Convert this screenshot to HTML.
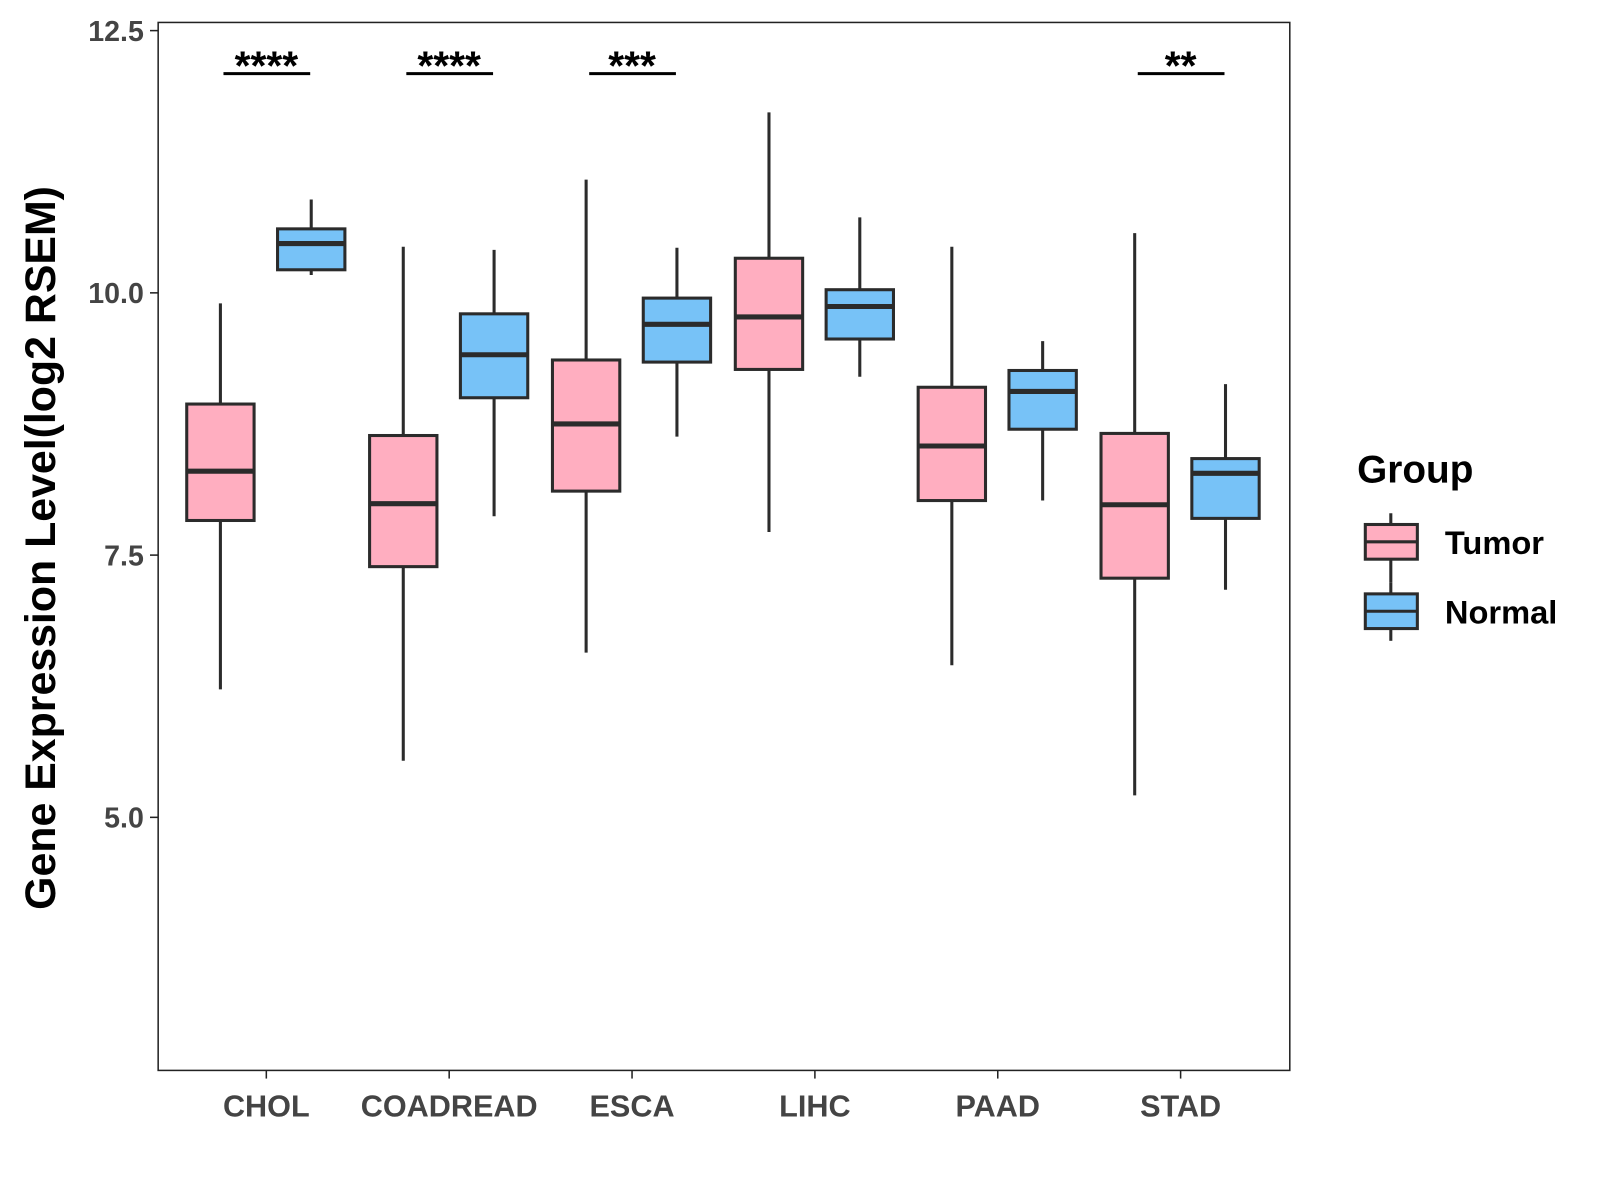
<!DOCTYPE html>
<html><head><meta charset="utf-8"><style>
html,body{margin:0;padding:0;background:#fff;}
svg{display:block;font-family:"Liberation Sans",Arial,sans-serif;}
</style></head><body>
<svg id="chart" width="1600" height="1200" viewBox="0 0 1568 1176">
<rect x="155" y="22" width="1109" height="1027" fill="none" stroke="#222" stroke-width="1.5"/>
<g id="marks"></g>
<text transform="translate(54,537) rotate(-90)" text-anchor="middle" font-size="42" font-weight="bold" fill="#000">Gene Expression Level(log2 RSEM)</text>
<g>
<text x="1330" y="473" font-size="38" font-weight="bold">Group</text>
<g>
<line x1="1363" y1="503" x2="1363" y2="571" stroke="#2b2b2b" stroke-width="3"/>
<rect x="1338" y="514" width="51" height="34" fill="#FFAEC0" stroke="#2b2b2b" stroke-width="3"/>
<line x1="1338" y1="531" x2="1389" y2="531" stroke="#2b2b2b" stroke-width="3"/>
<text x="1416" y="543" font-size="32" font-weight="bold">Tumor</text></g>
<g>
<line x1="1363" y1="571" x2="1363" y2="628" stroke="#2b2b2b" stroke-width="3"/>
<rect x="1338" y="582" width="51" height="34" fill="#77C2F7" stroke="#2b2b2b" stroke-width="3"/>
<line x1="1338" y1="599" x2="1389" y2="599" stroke="#2b2b2b" stroke-width="3"/>
<text x="1416" y="611" font-size="32" font-weight="bold">Normal</text></g>
</g>
</svg>
<script>
const categories=["CHOL","COADREAD","ESCA","LIHC","PAAD","STAD"];
const tumorStats=[[6.22,7.83,8.30,8.94,9.90],[5.54,7.39,7.99,8.64,10.44],[6.57,8.11,8.75,9.36,11.08],[7.72,9.27,9.77,10.33,11.72],[6.45,8.02,8.54,9.10,10.44],[5.21,7.28,7.98,8.66,10.57]];
const normalStats=[[10.17,10.22,10.47,10.61,10.89],[7.87,9.00,9.41,9.80,10.41],[8.63,9.34,9.70,9.95,10.43],[9.20,9.56,9.87,10.03,10.72],[8.02,8.70,9.06,9.26,9.54],[7.17,7.85,8.28,8.42,9.13]];
const sigLabels=["****","****","***","","","**"];
const yTicks=[5.0,7.5,10.0,12.5];
const yTickLabels=["5.0","7.5","10.0","12.5"];
const sigLevel=12.09;

const NS="http://www.w3.org/2000/svg";
const g=document.getElementById('marks');
const y=v=>30+(12.5-v)*102.8;
const x=i=>261+i*179.2;
function mk(t,a,p){const e=document.createElementNS(NS,t);for(const k in a)e.setAttribute(k,a[k]);(p||g).appendChild(e);return e;}
yTicks.forEach((t,i)=>{
  const l=mk('line',{x1:147,x2:155,y1:y(t),y2:y(t),stroke:'#222','stroke-width':1.5});
  
  
  const tx=mk('text',{x:141,y:y(t)+10,'text-anchor':'end','font-size':28,'font-weight':'bold',fill:'#444'});
  tx.textContent=yTickLabels[i];
  
  
});
categories.forEach((c,i)=>{
  const l=mk('line',{x1:x(i),x2:x(i),y1:1049,y2:1057,stroke:'#222','stroke-width':1.5});
  
  
  const tx=mk('text',{x:x(i),y:1094,'text-anchor':'middle','font-size':30,'font-weight':'bold',fill:'#444'});
  tx.textContent=c;
  
  
  [[tumorStats[i],-45,'#FFAEC0','tumor'],[normalStats[i],44,'#77C2F7','normal']].forEach(([s,off,col,nm])=>{
    const cx=x(i)+off;
    const grp=mk('g',{});
    
    
    mk('line',{x1:cx,x2:cx,y1:y(s[0]),y2:y(s[4]),stroke:'#2b2b2b','stroke-width':3},grp);
    mk('rect',{x:cx-33,y:y(s[3]),width:66,height:y(s[1])-y(s[3]),fill:col,stroke:'#2b2b2b','stroke-width':3},grp);
    mk('line',{x1:cx-33,x2:cx+33,y1:y(s[2]),y2:y(s[2]),stroke:'#2b2b2b','stroke-width':5},grp);
  });
  if(sigLabels[i]){
    const l=mk('line',{x1:x(i)-42,x2:x(i)+43,y1:y(sigLevel),y2:y(sigLevel),stroke:'#000','stroke-width':3});
    
    
    const tx=mk('text',{x:x(i),y:y(sigLevel)+6,'text-anchor':'middle','font-size':40,'font-weight':'bold',fill:'#000'});
    tx.textContent=sigLabels[i];
    
    
  }
});
</script>
</body></html>
